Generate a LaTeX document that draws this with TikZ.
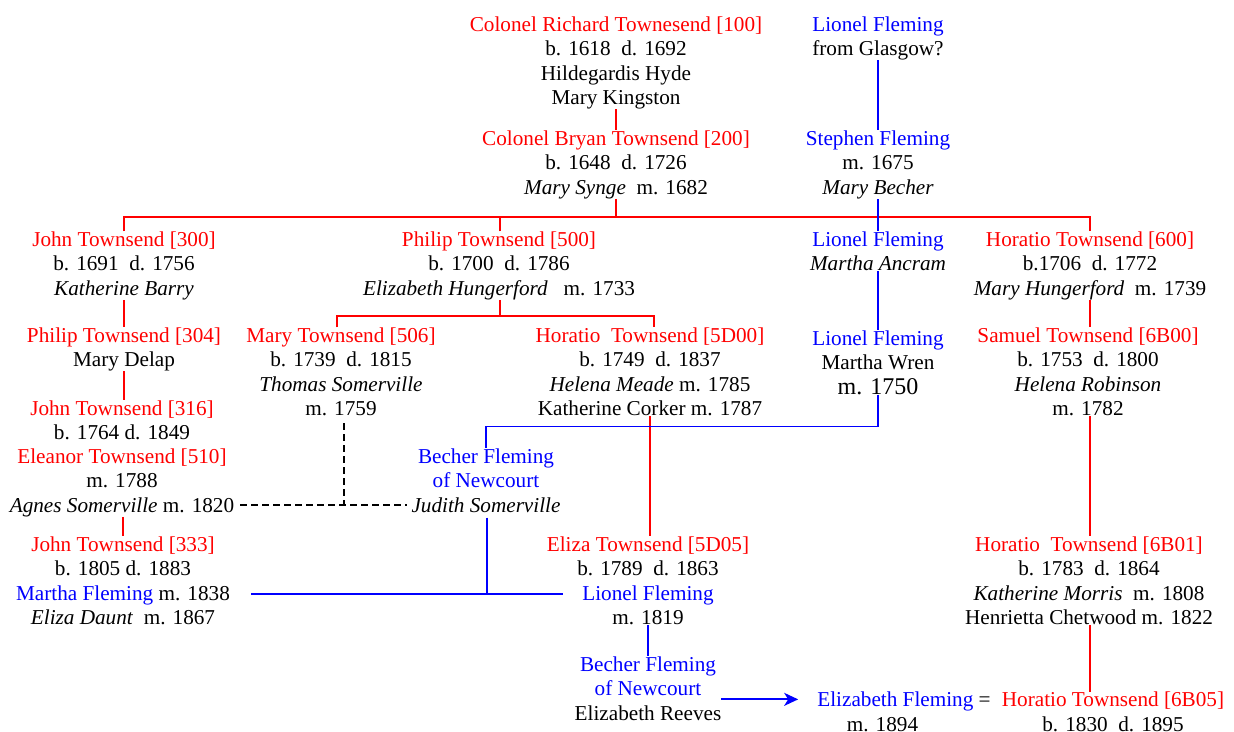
\documentclass[tikz,border=0pt]{standalone}
\usepackage{fontspec}
\setmainfont{Liberation Serif}
\usepackage{xcolor}
\usetikzlibrary{arrows.meta}
\definecolor{townsendred}{HTML}{FF0000}
\definecolor{flemingblue}{HTML}{0000FF}
\newcommand{\tname}[1]{\textcolor{townsendred}{#1}}
\newcommand{\fname}[1]{\textcolor{flemingblue}{#1}}
\tikzset{
  person/.style={align=center, inner sep=0pt, anchor=base, font=\fontsize{21.2}{24.4}\selectfont},
  redline/.style={townsendred, line width=1.4pt},
  blueline/.style={flemingblue, line width=1.4pt},
  somerville/.style={black, line width=1.4pt, dash pattern=on 7pt off 4pt}
}

\begin{document}
\begin{tikzpicture}[x=1pt, y=-1pt]
  \useasboundingbox[fill=white] (0,0) rectangle (1234,731);

  % first generations (nodes placed at the baseline of their last line)
  \node[person] (richard) at (616,104.5) {\tname{Colonel Richard Townesend [100]}\\ b. 1618\ \ d. 1692\\ Hildegardis Hyde\\ Mary Kingston};
  \node[person] (lionelA) at (878,55.7) {\fname{Lionel Fleming}\\ from Glasgow?};
  \node[person] (bryan) at (616,194.1) {\tname{Colonel Bryan Townsend [200]}\\ b. 1648\ \ d. 1726\\ \textit{Mary Synge}\ \ m. 1682};
  \node[person] (stephen) at (878,194.1) {\fname{Stephen Fleming}\\ m. 1675\\ \textit{Mary Becher}};

  % children of Bryan
  \node[person] (john300) at (124,295.1) {\tname{John Townsend [300]}\\ b. 1691\ \ d. 1756\\ \textit{Katherine Barry}};
  \node[person] (philip500) at (499,295.1) {\tname{Philip Townsend [500]}\\ b. 1700\ \ d. 1786\\ \textit{Elizabeth Hungerford}\ \ \ m. 1733};
  \node[person] (lionelB) at (878,270.7) {\fname{Lionel Fleming}\\ \textit{Martha Ancram}};
  \node[person] (horatio600) at (1090,295.1) {\tname{Horatio Townsend [600]}\\ b.1706\ \ d. 1772\\ \textit{Mary Hungerford}\ \ m. 1739};

  % next row
  \node[person] (philip304) at (124,366.7) {\tname{Philip Townsend [304]}\\ Mary Delap};
  \node[person] (mary506) at (341,415.5) {\tname{Mary Townsend [506]}\\ b. 1739\ \ d. 1815\\ \textit{Thomas Somerville}\\ m. 1759};
  \node[person] (horatio5D00) at (650,415.5) {\tname{Horatio\ \ Townsend [5D00]}\\ b. 1749\ \ d. 1837\\ \textit{Helena Meade} m. 1785\\ Katherine Corker m. 1787};
  \node[person] (lionelC) at (878,394) {\fname{Lionel Fleming}\\ Martha Wren\\ {\fontsize{24}{24.4}\selectfont m. 1750}};
  \node[person] (samuel) at (1088,415.5) {\tname{Samuel Townsend [6B00]}\\ b. 1753\ \ d. 1800\\ \textit{Helena Robinson}\\ m. 1782};

  \node[person] (john316) at (122,439.7) {\tname{John Townsend [316]}\\ b. 1764 d. 1849};
  \node[person] (eleanor) at (122,512.1) {\tname{Eleanor Townsend [510]}\\ m. 1788\\ \textit{Agnes Somerville} m. 1820};
  \node[person] (becher1) at (486,512.1) {\fname{Becher Fleming}\\ \fname{of Newcourt}\\ \textit{Judith Somerville}};

  % lower rows
  \node[person] (john333) at (123,624.5) {\tname{John Townsend [333]}\\ b. 1805 d. 1883\\ \fname{Martha Fleming} m. 1838\\ \textit{Eliza Daunt}\ \ m. 1867};
  \node[person] (eliza) at (648,624.5) {\tname{Eliza Townsend [5D05]}\\ b. 1789\ \ d. 1863\\ \fname{Lionel Fleming}\\ m. 1819};
  \node[person] (horatio6B01) at (1089,624.5) {\tname{Horatio\ \ Townsend [6B01]}\\ b. 1783\ \ d. 1864\\ \textit{Katherine Morris}\ \ m. 1808\\ Henrietta Chetwood m. 1822};
  \node[person] (becher2) at (648,720) {\fname{Becher Fleming}\\ \fname{of Newcourt}\\ Elizabeth Reeves};
  \node[person] (elizabeth) at (904,731) {\fname{Elizabeth Fleming} =\\ m. 1894\hspace*{43pt}};
  \node[person] (horatio6B05) at (1113,731) {\tname{Horatio Townsend [6B05]}\\ b. 1830\ \ d. 1895};

  % join points
  \coordinate (redbar) at (616,217);
  \coordinate (philipbar) at (500,316);
  \coordinate (somjoin) at (344,505);
  \coordinate (agnesend) at (240,505);
  \coordinate (judithend) at (407,505);
  \coordinate (flemjoin) at (487,594);
  \coordinate (marthaend) at (251,594);
  \coordinate (lionelend) at (563,594);

  % Townsend lines
  \draw[redline] (richard.south) -- (bryan.north);
  \draw[redline] (bryan.south) -- (redbar);
  \draw[redline] (john300.north) |- (redbar) -| (horatio600.north);
  \draw[redline] (philip500.north -| philipbar) -- (philipbar |- redbar);
  \draw[redline] (john300.south) -- (philip304.north);
  \draw[redline] (philip304.south) -- (philip304.south |- john316.north);
  \draw[redline] (philip500.south -| philipbar) -- (philipbar);
  \draw[redline] ([xshift=-4pt]mary506.north) |- (philipbar) -| ([xshift=4pt]horatio5D00.north);
  \draw[redline] (eleanor.south -| john333.north) -- (john333.north);
  \draw[redline] (horatio5D00.south) -- (horatio5D00.south |- eliza.north);
  \draw[redline] (horatio600.south) -- (samuel.north -| horatio600.south);
  \draw[redline] (samuel.south -| horatio600.south) -- (horatio6B01.north -| horatio600.south);
  \draw[redline] (horatio6B01.south -| horatio600.south) -- (horatio6B05.north -| horatio600.south);

  % Fleming lines
  \draw[blueline] (lionelA.south) -- (stephen.north);
  \draw[blueline] (stephen.south) -- (lionelB.north);
  \draw[blueline] (lionelB.south) -- (lionelC.north);
  \draw[blueline] (lionelC.south) -- ++(0,32) -| (becher1.north);
  \draw[blueline, shorten <=5pt] (becher1.south -| flemjoin) -- (flemjoin);
  \draw[blueline] (marthaend) -- (lionelend);
  \draw[blueline] (eliza.south) -- (becher2.north);
  \draw[blueline, line width=1.8pt, -{Stealth[length=14pt, width=13pt, inset=4pt]}, shorten >=19pt]
    ([yshift=-11pt]becher2.east) -- ([yshift=-11pt]becher2.east -| elizabeth.west);

  % Somerville marriages
  \draw[somerville, shorten <=7pt] (mary506.south -| somjoin) -- (somjoin);
  \draw[somerville] (agnesend) -- (judithend);
\end{tikzpicture}
\end{document}
